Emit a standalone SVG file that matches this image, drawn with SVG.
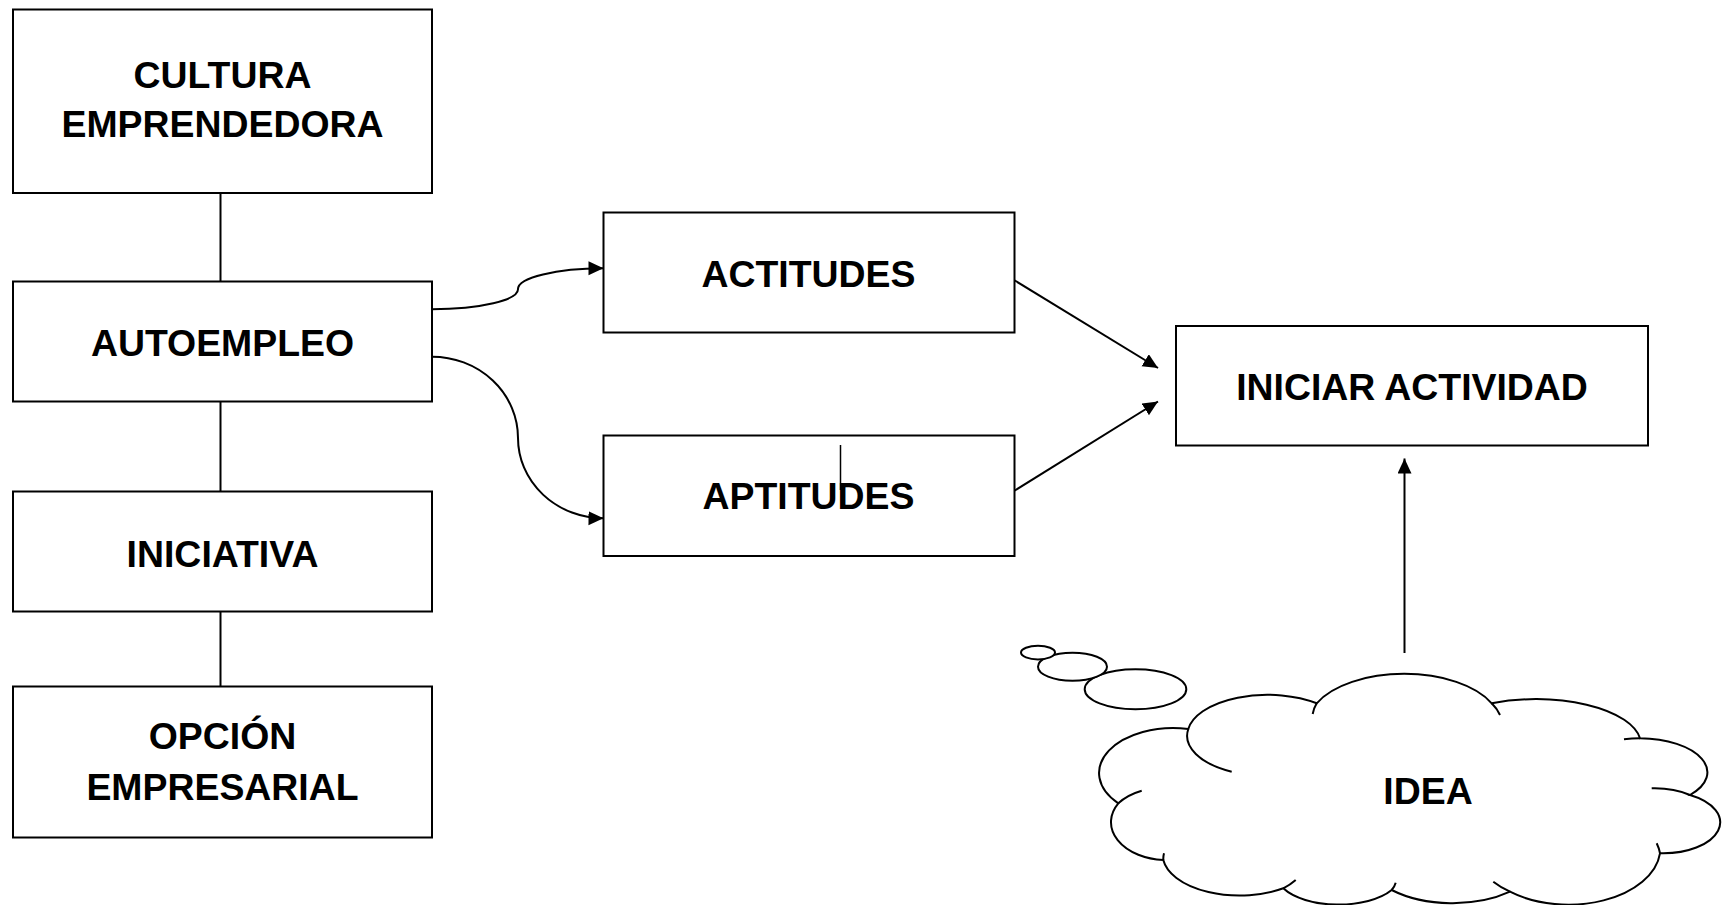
<svg xmlns="http://www.w3.org/2000/svg" width="1730" height="905" viewBox="0 0 1730 905">
<style>
.box{fill:#fff;stroke:#000;stroke-width:2}
.lbl{font-family:"Liberation Sans",Arial,sans-serif;font-weight:bold;font-size:37.4px;fill:#000;text-anchor:middle}
.ln{fill:none;stroke:#000;stroke-width:2}
.cl{fill:#fff;stroke:#000;stroke-width:2}
</style>
<defs>
<marker id="arr" markerUnits="userSpaceOnUse" markerWidth="16" markerHeight="16" refX="15" refY="7" orient="auto">
<path d="M0,0 L15,7 L0,14 z" fill="#000"/>
</marker>
</defs>
<rect width="1730" height="905" fill="#fff"/>
<g id="connectors">
<line class="ln" x1="220.5" y1="193" x2="220.5" y2="281"/>
<line class="ln" x1="220.5" y1="401" x2="220.5" y2="491"/>
<line class="ln" x1="220.5" y1="611" x2="220.5" y2="686"/>
<path class="ln" d="M432 309.3 A 86 20 0 0 0 518 289 A 86 20.7 0 0 1 603.5 268.3" marker-end="url(#arr)"/>
<path class="ln" d="M432 356.7 A 86 81.3 0 0 1 518 438 A 86 80.3 0 0 0 603.5 518.3" marker-end="url(#arr)"/>
<line class="ln" x1="1014" y1="280" x2="1158" y2="368" marker-end="url(#arr)"/>
<line class="ln" x1="1014" y1="491" x2="1158" y2="401.5" marker-end="url(#arr)"/>
<line class="ln" x1="1404.5" y1="653" x2="1404.5" y2="458.5" marker-end="url(#arr)"/>
</g>
<g id="cultura">
<rect class="box" x="13" y="9.5" width="419" height="183.5"/>
<text class="lbl" x="222.5" y="88">CULTURA</text>
<text class="lbl" x="222.5" y="137">EMPRENDEDORA</text>
</g>
<g id="autoempleo">
<rect class="box" x="13" y="281.5" width="419" height="120"/>
<text class="lbl" x="222.5" y="356">AUTOEMPLEO</text>
</g>
<g id="iniciativa">
<rect class="box" x="13" y="491.5" width="419" height="120"/>
<text class="lbl" x="222.5" y="567">INICIATIVA</text>
</g>
<g id="opcion">
<rect class="box" x="13" y="686.5" width="419" height="151"/>
<text class="lbl" x="222.5" y="749">OPCIÓN</text>
<text class="lbl" x="222.5" y="800">EMPRESARIAL</text>
</g>
<g id="actitudes">
<rect class="box" x="603.5" y="212.5" width="411" height="120"/>
<text class="lbl" x="808.5" y="287">ACTITUDES</text>
</g>
<g id="aptitudes">
<rect class="box" x="603.5" y="435.5" width="411" height="120.5"/>
<text class="lbl" x="808.5" y="509">APTITUDES</text>
<line x1="840.5" y1="445" x2="840.5" y2="490" stroke="#000" stroke-width="1.5"/>
</g>
<g id="iniciar">
<rect class="box" x="1176" y="326" width="472" height="119.5"/>
<text class="lbl" x="1412" y="400">INICIAR ACTIVIDAD</text>
</g>
<g id="idea">
<path class="cl" d="M1118.3 803.3 A 74 45 0 0 1 1188.3 729 A 80 40 0 0 1 1316.7 703.3 A 96 50 0 0 1 1491.7 703.3 A 105 45 0 0 1 1640 738.3 A 68 34 0 0 1 1690 795 A 57 31 0 0 1 1660 853.3 A 92 57 0 0 1 1510 891.7 A 90 50 0 0 1 1391.7 890 A 62 30 0 0 1 1283.3 888.3 A 77 41 0 0 1 1163.3 860 A 56 38 0 0 1 1118.3 803.3 Z"/>
<path class="ln" d="M1188.3 729 A 80 40 0 0 0 1231.7 771.7 M1316.7 703.3 A 96 50 0 0 0 1312.7 714 M1491.7 703.3 A 96 50 0 0 1 1500 715 M1640 738.3 A 68 34 0 0 0 1624 739.3 M1690 795 A 57 31 0 0 0 1651.7 788.3 M1660 853.3 A 92 57 0 0 0 1656.7 843.3 M1510 891.7 A 92 57 0 0 1 1493.3 881.7 M1391.7 890 A 62 30 0 0 0 1395.7 882.7 M1283.3 888.3 A 77 41 0 0 0 1295.7 880 M1163.3 860 A 77 41 0 0 1 1164 853.3 M1118.3 803.3 A 56 38 0 0 1 1141.7 790.7"/>
<ellipse class="cl" cx="1135.5" cy="689.3" rx="50.8" ry="20"/>
<ellipse class="cl" cx="1072.5" cy="666.7" rx="34.5" ry="14"/>
<ellipse class="cl" cx="1038" cy="652.6" rx="17" ry="6.8"/>
<text class="lbl" x="1428" y="804">IDEA</text>
</g>
</svg>
